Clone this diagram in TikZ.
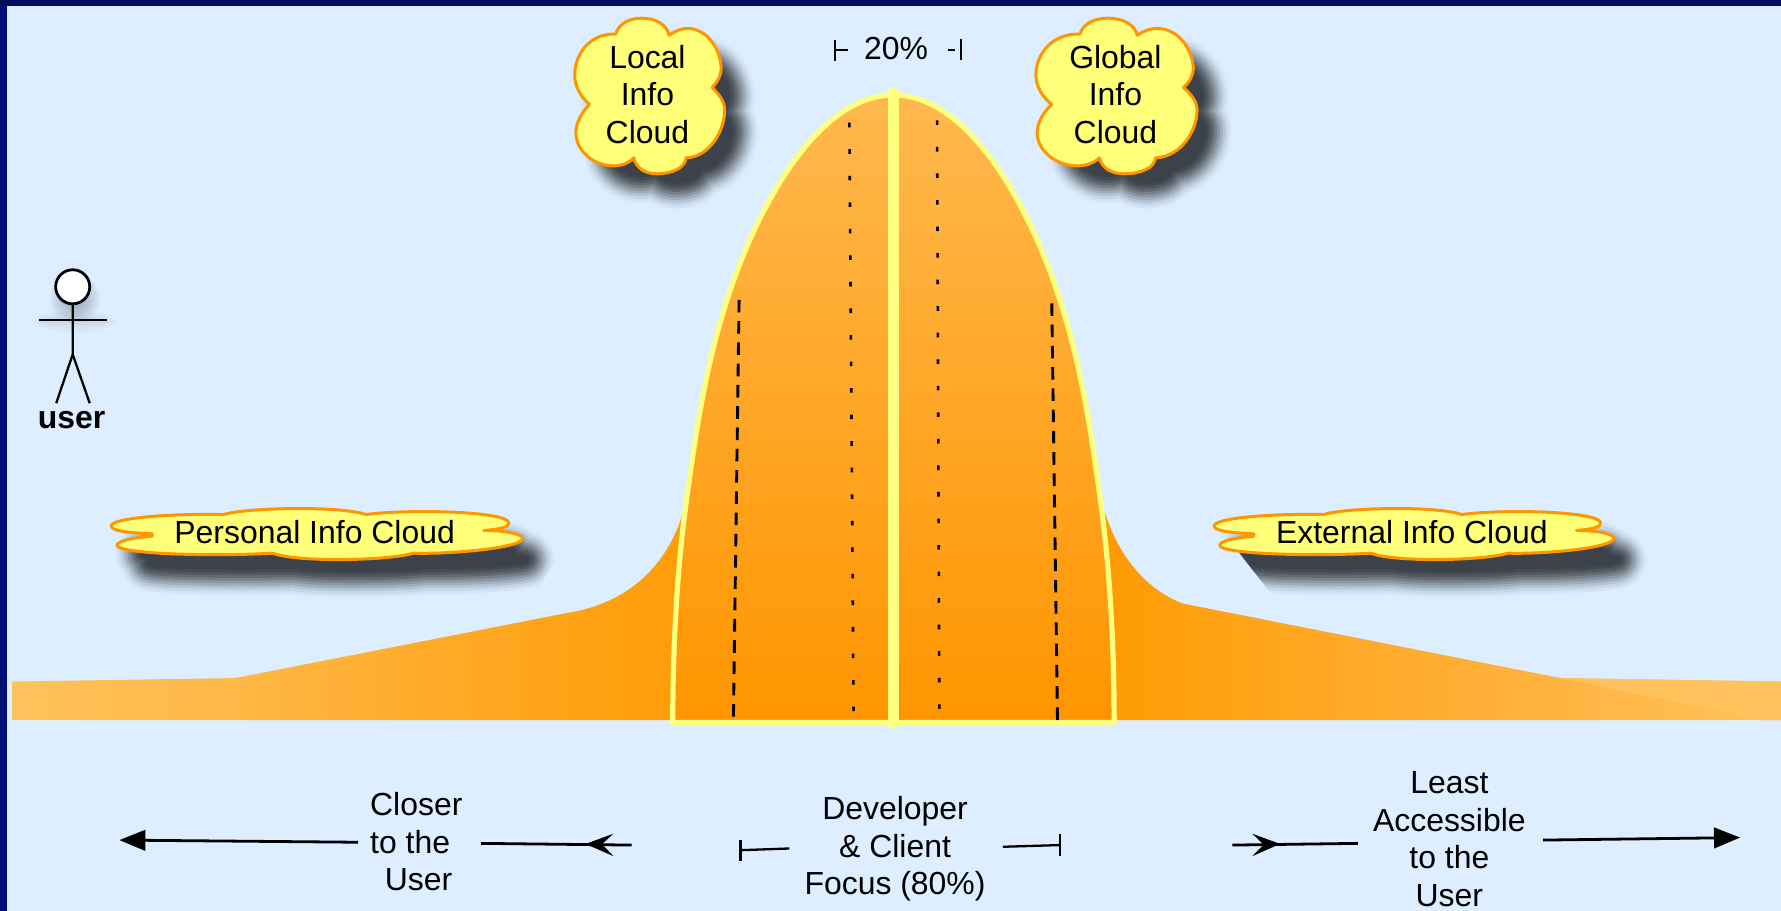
\documentclass[tikz,border=0pt]{standalone}
\usepackage{fontspec}
\setmainfont{Liberation Sans}
\usetikzlibrary{arrows.meta}
\definecolor{bgblue}{HTML}{DCEEFF}
\definecolor{navytop}{HTML}{000E60}
\definecolor{navyleft}{HTML}{000F78}
\definecolor{belledge}{HTML}{FFFF80}
\definecolor{cloudfill}{HTML}{FFFF78}
\definecolor{cloudedge}{HTML}{FF9500}
\definecolor{shadowgrey}{HTML}{3D424A}
\definecolor{lightorange}{HTML}{FFC25C}
\definecolor{belltop}{HTML}{FFB84D}
\definecolor{bellbottom}{HTML}{FF9500}
\definecolor{gA}{HTML}{FFB745}
\definecolor{gB}{HTML}{FFA215}
\definecolor{gC}{HTML}{FF9A00}
\definecolor{gD}{HTML}{FFAA2A}
\definecolor{gE}{HTML}{FFB440}
\pgfdeclarehorizontalshading{groundshade}{100bp}{
  color(0bp)=(lightorange);
  color(25bp)=(lightorange);
  color(31.3bp)=(gA);
  color(40.9bp)=(gB);
  color(45.5bp)=(gC);
  color(55.2bp)=(gC);
  color(63.2bp)=(gD);
  color(68.8bp)=(gE);
  color(75bp)=(lightorange);
  color(100bp)=(lightorange)}
\tikzset{
  x=0.02cm,y=-0.02cm,
  label text/.style={font=\fontsize{16}{18.8}\selectfont,inner sep=0pt,align=center,text=black},
  cloud line/.style={draw=cloudedge,fill=cloudfill,line width=1.5pt,line join=round},
  thin rule/.style={line width=1.15pt,draw=black},
  long arrow/.style={line width=1.4pt,draw=black},
  big tip/.style={-{Triangle[length=0.46cm,width=0.36cm]}},
  dot guide/.style={line width=1.3pt,dash pattern=on 2.3pt off 11pt},
  dash guide/.style={line width=1.45pt,dash pattern=on 6.3pt off 4.36pt},
}
\def\flatcloud{(134,470) .. controls (110,469) and (98,467) .. (98,463)
  .. controls (98,456) and (150,452) .. (197,453)
  .. controls (215,447) and (300,445) .. (322,453)
  .. controls (360,448) and (445,450) .. (448,460)
  .. controls (449,464) and (440,466) .. (426,467)
  .. controls (445,467) and (460,470) .. (460,474)
  .. controls (460,482) and (400,488) .. (364,487)
  .. controls (340,494) and (260,495) .. (240,487)
  .. controls (190,490) and (103,488) .. (103,480)
  .. controls (103,476) and (120,473) .. (134,472) -- cycle}
\def\tallcloud{(542,30) .. controls (545,20) and (555,16) .. (565,16)
  .. controls (578,16) and (587,22) .. (589,31)
  .. controls (595,27) and (600,25) .. (605,25)
  .. controls (622,25) and (634,42) .. (635,60)
  .. controls (635,66) and (632,72) .. (627,77)
  .. controls (634,84) and (638,90) .. (638,97)
  .. controls (638,115) and (625,138) .. (604,139)
  .. controls (603,148) and (592,153) .. (578,153)
  .. controls (568,153) and (560,148) .. (558,139)
  .. controls (553,144) and (547,146) .. (540,146)
  .. controls (522,146) and (507,132) .. (507,117)
  .. controls (507,108) and (512,99) .. (519,92)
  .. controls (511,85) and (506,76) .. (506,66)
  .. controls (506,47) and (520,29) .. (542,30) -- cycle}
\def\bellpath{(592.3,636) .. controls (592.3,570) and (596,500) .. (604.6,439)
  .. controls (614.3,367.5) and (625.2,296) .. (654.5,224.5)
  .. controls (683.2,154.5) and (730,83.6) .. (786.6,83.6)
  .. controls (843.2,83.6) and (890,154.5) .. (918.7,224.5)
  .. controls (948,296) and (958.9,367.5) .. (968.6,439)
  .. controls (977.2,500) and (980.9,570) .. (980.9,636) -- cycle}
\newcommand{\softshadow}[1]{%
  \foreach \rr/\aa in {22/.0064,20/.046,18/.084,16/.123,14/.166,12/.213,10/.27,8/.345,6/.448,4/.606,2/.885}{%
    \path[draw=shadowgrey,opacity=\aa,line join=round,line width=\rr*1.36pt] #1;}%
  \fill[shadowgrey] #1;}
\begin{document}
\begin{tikzpicture}
\useasboundingbox (0,0) rectangle (1568,802);
\fill[bgblue] (0,0) rectangle (1568,802);
\fill[navyleft] (0,0) rectangle (6,802);
\fill[navytop] (0,0) rectangle (1568,5);

% ground
\shade[shading=groundshade] (11,600) -- (207,597) -- (500,539.5)
  .. controls (560,530) and (590,490) .. (601,452)
  -- (973,452) .. controls (985,490) and (1010,520) .. (1042,531.5)
  -- (1374,597) -- (1568,600) -- (1568,634) -- (11,634) -- cycle;
\fill[lightorange] (1374,597) -- (1568,600) -- (1568,634) -- (1552,634) -- cycle;

% bell
\shade[top color=belltop,bottom color=bellbottom] \bellpath;
\draw[belledge,line width=2.6pt,line join=round] \bellpath;
\coordinate (dividertop) at (786.6,81);
\coordinate (dividerbottom) at (786.6,637);
\draw[belledge,line width=5.2pt,line cap=round] (dividertop) -- (dividerbottom);

% guide lines inside the bell
\coordinate (dotLtop) at (747.8,108);
\coordinate (dotLbottom) at (751.5,630);
\coordinate (dotRtop) at (825,106);
\coordinate (dotRbottom) at (827,628);
\coordinate (dashLtop) at (650.7,264);
\coordinate (dashLbottom) at (645.7,632);
\coordinate (dashRtop) at (926,267);
\coordinate (dashRbottom) at (931,634);
\draw[dot guide] (dotLtop) -- (dotLbottom);
\draw[dot guide] (dotRtop) -- (dotRbottom);
\draw[dash guide] (dashLtop) -- (dashLbottom);
\draw[dash guide] (dashRtop) -- (dashRbottom);

% tall clouds
\begin{scope}[shift={(590,105)},scale=.8,shift={(-572,-85)}]
  \softshadow{\tallcloud}
\end{scope}
\begin{scope}[shift={(1003,105)},xscale=.86,yscale=.8,shift={(-572,-85)}]
  \softshadow{\tallcloud}
\end{scope}
\path[cloud line] \tallcloud;
\begin{scope}[shift={(912,0)},xscale=1.075,shift={(-506,0)}]
  \path[cloud line] \tallcloud;
\end{scope}
\node[label text] (localcloud) at (570,83) {Local\\Info\\Cloud};
\node[label text] (globalcloud) at (982,83) {Global\\Info\\Cloud};

% flat clouds
\begin{scope}
  \clip (0,400) -- (546,400) -- (424,600) -- (0,600) -- cycle;
  \begin{scope}[shift={(295,491)},xscale=.93,yscale=.45,shift={(-279,-470)}]
    \softshadow{\flatcloud}
  \end{scope}
\end{scope}
\begin{scope}
  \clip (1023,400) -- (1568,400) -- (1568,600) -- (1180,600) -- cycle;
  \begin{scope}[shift={(1261,491)},xscale=.905,yscale=.45,shift={(-279,-470)}]
    \softshadow{\flatcloud}
  \end{scope}
\end{scope}
\path[cloud line] \flatcloud;
\begin{scope}[shift={(1069,0)},xscale=.972,shift={(-98,0)}]
  \path[cloud line] \flatcloud;
\end{scope}
\node[label text] (personalcloud) at (277,468.5) {Personal Info Cloud};
\node[label text] (externalcloud) at (1243,468.5) {External Info Cloud};

% 20% marker
\node[label text] (twenty) at (789,43) {20\%};
\coordinate (t1a) at (735,35); \coordinate (t1b) at (735,54);
\coordinate (t1c) at (735,44); \coordinate (t1d) at (747,44);
\coordinate (t2a) at (846,34); \coordinate (t2b) at (846,53);
\coordinate (t2c) at (835,44); \coordinate (t2d) at (841,44);
\draw[thin rule] (t1a) -- (t1b);
\draw[thin rule] (t1c) -- (t1d);
\draw[thin rule,line width=1.3pt] (t2a) -- (t2b);
\draw[thin rule] (t2c) -- (t2d);

% actor
\foreach \rr in {2,4,...,22}{\fill[shadowgrey,opacity=.045] (66,263) circle ({\rr});}
\foreach \rr in {2,4,...,10}{\fill[shadowgrey,opacity=.02] (66,283) ellipse ({26+\rr} and {\rr});}
\node[draw=black,fill=white,line width=1.4pt,inner sep=0pt,circle,minimum size=0.6cm] (head) at (64,252.5) {};
\coordinate (armL) at (34.5,281.7);
\coordinate (armR) at (94.3,281.7);
\coordinate (crotch) at (64,312);
\coordinate (legL) at (49.5,355);
\coordinate (legR) at (79,355);
\draw[line width=1.15pt] (head.south) -- (crotch) -- (legL);
\draw[line width=1.15pt] (crotch) -- (legR);
\draw[line width=1.15pt] (armL) -- (armR);
\node[label text,font=\fontsize{16}{18.8}\selectfont\bfseries] (userlabel) at (63,369.5) {user};

% bottom labels
\node[label text,align=left] (closer) at (366.5,741) {Closer\\to the\\\hspace*{0.26cm}User};
\node[label text] (focus) at (788,747.5) {Developer\\\& Client\\Focus (80\%)};
\node[label text] (least) at (1276,739) {Least\\Accessible\\to the\\User};

% arrows left
\coordinate (a1s) at (315,741.5);
\coordinate (a1e) at (105,739.6);
\draw[long arrow,big tip] (a1s) -- (a1e);
\coordinate (a2s) at (556,744);
\coordinate (a2e) at (423.6,742.5);
\draw[long arrow] (a2s) -- (a2e);
\coordinate (h2tip) at (515.5,743);
\coordinate (h2a) at (540,734);
\coordinate (h2n) at (530,743.2);
\coordinate (h2b) at (540,753.7);
\fill[black] (h2tip) -- (h2a) -- (h2n) -- (h2b) -- cycle;

% focus brackets
\coordinate (f1a) at (652,739.6); \coordinate (f1b) at (652,758);
\coordinate (f1c) at (652,748.5); \coordinate (f1d) at (695,747);
\coordinate (f2a) at (933,734); \coordinate (f2b) at (933,753.7);
\coordinate (f2c) at (883,745.5); \coordinate (f2d) at (933,744);
\draw[thin rule] (f1a) -- (f1b);
\draw[thin rule] (f1c) -- (f1d);
\draw[thin rule] (f2a) -- (f2b);
\draw[thin rule] (f2c) -- (f2d);

% arrows right
\coordinate (a3s) at (1085,744);
\coordinate (a3e) at (1195.5,742.5);
\draw[long arrow] (a3s) -- (a3e);
\coordinate (h3tip) at (1127,743);
\coordinate (h3a) at (1102.6,734);
\coordinate (h3n) at (1112.5,743.6);
\coordinate (h3b) at (1102.6,753.7);
\fill[black] (h3tip) -- (h3a) -- (h3n) -- (h3b) -- cycle;
\coordinate (a4s) at (1358.6,739.6);
\coordinate (a4e) at (1532,737.4);
\draw[long arrow,big tip] (a4s) -- (a4e);
\end{tikzpicture}
\end{document}
